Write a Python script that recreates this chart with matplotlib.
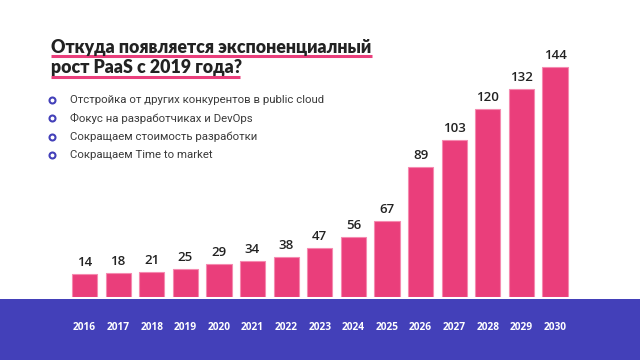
import matplotlib
matplotlib.use("Agg")
import matplotlib.pyplot as plt
from matplotlib.patches import Rectangle
from matplotlib.lines import Line2D
import matplotlib.transforms as mtransforms

years = ["2016", "2017", "2018", "2019", "2020", "2021", "2022", "2023",
         "2024", "2025", "2026", "2027", "2028", "2029", "2030"]
values = [14, 18, 21, 25, 29, 34, 38, 47, 56, 67, 89, 103, 120, 132, 144]
# bar heights as drawn on the slide (not proportional to the labels)
bar_heights = [14.2, 14.7, 15.5, 17.6, 20.3, 22.6, 24.7, 30.8, 37.3, 47.7,
               81.4, 98.4, 118.0, 130.6, 144.0]
title_lines = ["Откуда появляется экспоненциалный", "рост PaaS с 2019 года?"]
bullets = ["Отстройка от других конкурентов в public cloud",
           "Фокус на разработчиках и DevOps",
           "Сокращаем стоимость разработки",
           "Сокращаем Time to market"]

PINK = "#EA3E7B"
BLUE = "#4340B9"
W, H = 640, 360

fig = plt.figure(figsize=(6.4, 3.6), dpi=100)
fig.patch.set_facecolor("white")

def fx(px):
    return px / W

def fy(py):
    return 1 - py / H

# blue band
band = Rectangle((0, 0), 1, fy(299), transform=fig.transFigure,
                 facecolor=BLUE, edgecolor="none", zorder=-10)
fig.patches.append(band)

left, right = 67.7, 571.8
top, bottom = 57.7, 296.7
ax = fig.add_axes([fx(left), fy(bottom), fx(right - left), (bottom - top) / H])
ax.set_xlim(-0.5, len(years) - 0.5)
ax.set_ylim(0, 150)
ax.axis("off")
ax.set_zorder(5)

x = list(range(len(years)))
ax.bar(x, bar_heights, width=0.75, color=PINK, edgecolor="#F58AB0", linewidth=0.8)
for xi, h, v in zip(x, bar_heights, values):
    ax.annotate(str(v), (xi, h), xytext=(0, 3.5), textcoords="offset points",
                ha="center", va="bottom", fontsize=9.5, color="#222222",
                family="Open Sans", fontweight="semibold")

trans = mtransforms.blended_transform_factory(ax.transData, fig.transFigure)
for xi, y in zip(x, years):
    ax.text(xi, fy(327), y, transform=trans, ha="center", va="center",
            fontsize=7.3, color="white", fontweight="bold", family="Open Sans",
            clip_on=False)

# title
tys = [47, 68]
for t, ty in zip(title_lines, tys):
    fig.text(fx(51), fy(ty), t, ha="left", va="center", fontsize=12.8,
             fontweight="heavy", color="#222222", family="Lato")
fig.lines.append(Line2D([fx(51), fx(372)], [fy(56), fy(56)], transform=fig.transFigure,
                        color=PINK, linewidth=2.2, solid_capstyle="butt"))
fig.lines.append(Line2D([fx(51), fx(240)], [fy(77), fy(77)], transform=fig.transFigure,
                        color=PINK, linewidth=2.2, solid_capstyle="butt"))

# bullets
bys = [100, 118.3, 136.7, 155]
for b, by in zip(bullets, bys):
    fig.lines.append(Line2D([fx(52)], [fy(by)], transform=fig.transFigure,
                            marker="o", markersize=4.3, markerfacecolor="white",
                            markeredgecolor=BLUE, markeredgewidth=1.5, linestyle="none"))
    fig.text(fx(70), fy(by), b, ha="left", va="center", fontsize=8.2,
             color="#3a3a3a", family="Roboto")

fig.savefig("out.png", dpi=100)
